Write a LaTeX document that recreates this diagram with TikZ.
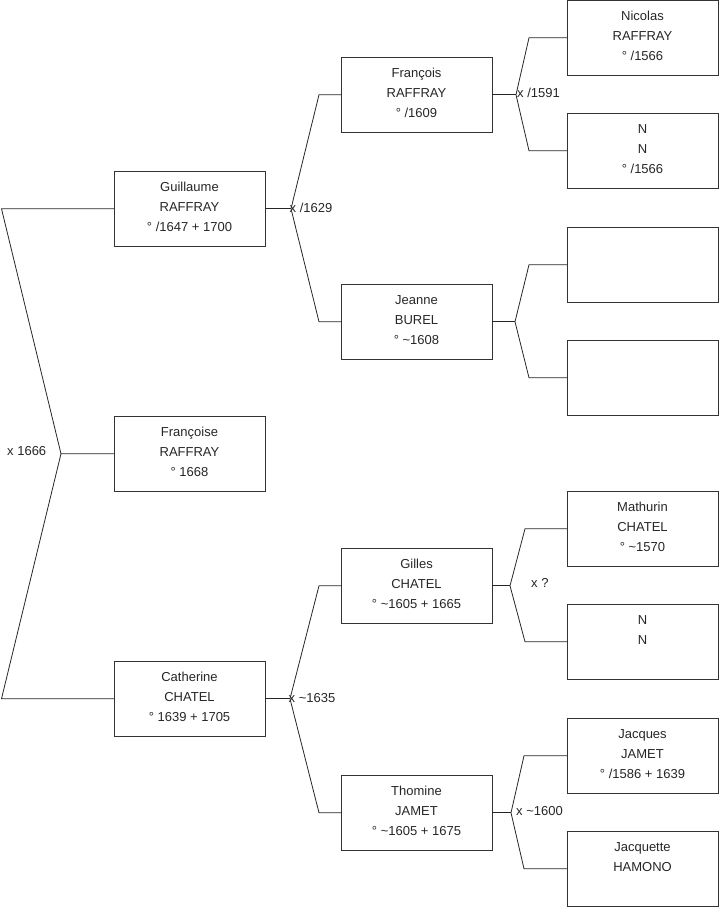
\documentclass[tikz,border=0pt]{standalone}
\usepackage{fontspec}
\setmainfont{Liberation Sans}
\tikzset{
  pbox/.style={draw=black!80, line width=0.9pt, minimum width=151pt, minimum height=75.5pt, anchor=north west, inner sep=0pt, outer sep=0pt},
  ptext/.style={anchor=north, inner sep=0pt, align=center, font=\fontsize{13}{20}\selectfont, text=black!85, yshift=-10pt},
  flabel/.style={anchor=west, inner sep=0pt, font=\fontsize{13}{14}\selectfont, text=black!85},
  conn/.style={draw=black!85, line width=0.8pt}
}
\newcommand\pbox[4]{%
  \node[pbox] (#1) at (#2,#3) {};
  \node[ptext] (#1t) at (#1.north) {\rule{0pt}{10pt}#4};
}
\begin{document}
\begin{tikzpicture}[x=1pt,y=-1pt]
\useasboundingbox (0,0) rectangle (719,908);
% column 1
\pbox{G}{114}{171}{Guillaume\\RAFFRAY\\° /1647 + 1700}
\pbox{F}{114}{416}{Françoise\\RAFFRAY\\° 1668}
\pbox{C}{114}{661}{Catherine\\CHATEL\\° 1639 + 1705}
% column 2
\pbox{Fr}{341}{57}{François\\RAFFRAY\\° /1609}
\pbox{J}{341}{284}{Jeanne\\BUREL\\° \textasciitilde1608}
\pbox{Gi}{341}{548}{Gilles\\CHATEL\\° \textasciitilde1605 + 1665}
\pbox{T}{341}{775}{Thomine\\JAMET\\° \textasciitilde1605 + 1675}
% column 3
\pbox{Ni}{567}{0}{Nicolas\\RAFFRAY\\° /1566}
\pbox{N1}{567}{113}{N\\N\\° /1566}
\pbox{E1}{567}{227}{}
\pbox{E2}{567}{340}{}
\pbox{M}{567}{491}{Mathurin\\CHATEL\\° \textasciitilde1570}
\pbox{N2}{567}{604}{N\\N}
\pbox{Ja}{567}{718}{Jacques\\JAMET\\° /1586 + 1639}
\pbox{Jq}{567}{831}{Jacquette\\HAMONO}
% fork points
\coordinate (r1) at (1.5,208.75);
\coordinate (r2) at (1.5,698.75);
\coordinate (f0) at (61,453.75);
\coordinate (f1) at (291,208.75);
\coordinate (f1a) at (319,94.75);
\coordinate (f1b) at (319,321.75);
\coordinate (f2) at (290,698.75);
\coordinate (f2a) at (319,585.75);
\coordinate (f2b) at (319,812.75);
\coordinate (f3) at (516,94.75);
\coordinate (f3a) at (529,37.75);
\coordinate (f3b) at (529,150.75);
\coordinate (f4) at (515,321.75);
\coordinate (f4a) at (529,264.75);
\coordinate (f4b) at (529,377.75);
\coordinate (f5) at (510,585.75);
\coordinate (f5a) at (525,528.75);
\coordinate (f5b) at (525,641.75);
\coordinate (f6) at (511,812.75);
\coordinate (f6a) at (524,755.75);
\coordinate (f6b) at (524,868.75);
% connectors
\draw[conn] (G.west) -- (r1) -- (f0) -- (F.west);
\draw[conn] (f0) -- (r2) -- (C.west);
\draw[conn] (G.east) -- (f1);
\draw[conn] (Fr.west) -- (f1a) -- (f1) -- (f1b) -- (J.west);
\draw[conn] (C.east) -- (f2);
\draw[conn] (Gi.west) -- (f2a) -- (f2) -- (f2b) -- (T.west);
\draw[conn] (Fr.east) -- (f3);
\draw[conn] (Ni.west) -- (f3a) -- (f3) -- (f3b) -- (N1.west);
\draw[conn] (J.east) -- (f4);
\draw[conn] (E1.west) -- (f4a) -- (f4) -- (f4b) -- (E2.west);
\draw[conn] (Gi.east) -- (f5);
\draw[conn] (M.west) -- (f5a) -- (f5) -- (f5b) -- (N2.west);
\draw[conn] (T.east) -- (f6);
\draw[conn] (Ja.west) -- (f6a) -- (f6) -- (f6b) -- (Jq.west);
% labels
\node[flabel] (l0) at (7,451.5) {x 1666};
\node[flabel] (l1) at (289.5,207.5) {x /1629};
\node[flabel] (l2) at (288.5,698) {x \textasciitilde1635};
\node[flabel] (l3) at (517,92.5) {x /1591};
\node[flabel] (l5) at (531,582.5) {x ?};
\node[flabel] (l6) at (516,811) {x \textasciitilde1600};
\end{tikzpicture}
\end{document}
